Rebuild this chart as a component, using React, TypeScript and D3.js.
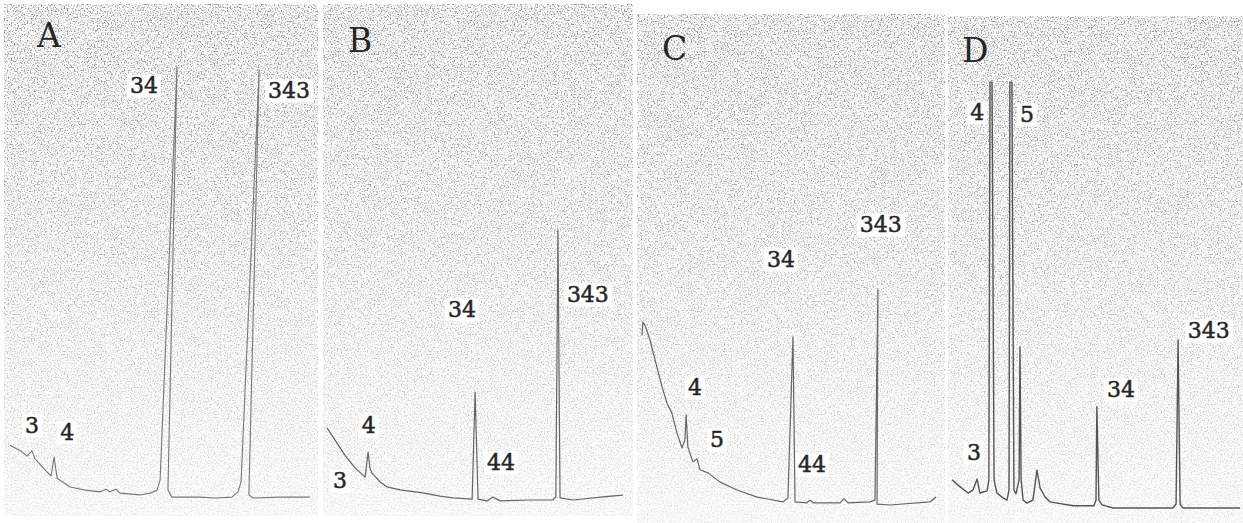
import * as d3 from 'd3';

type Pt = [number, number];
type Label = { text: string; t: number; s: number };

// t = position in the run window (0-100), s = detector response (% of full scale)
const traceA: Pt[] = [
  [0, 12.0], [4.0, 10.5], [5.6, 9.5], [7.3, 10.7], [8.3, 8.9], [11.6, 6.4], [13.6, 5.0],
  [14.6, 9.3], [15.6, 4.5], [19.9, 2.5], [24.8, 1.8], [29.8, 1.4], [31.8, 2.0], [33.1, 1.4],
  [35.1, 2.0], [36.4, 1.1], [43.0, 0.7], [46.4, 1.1], [48.7, 1.8], [49.7, 4.1], [55.3, 98.0],
  [52.3, 1.8], [53.6, 0.2], [62.9, 0.2], [67.9, 0], [73.5, 0.2], [75.5, 1.4], [76.5, 3.6],
  [82.5, 97.3], [79.1, 0.7], [80.5, 0], [89.4, 0.2], [99.3, 0.2],
];
const traceB: Pt[] = [
  [0, 16.4], [2.7, 13.6], [6.0, 10.2], [9.4, 7.3], [12.8, 5.2], [13.8, 10.9], [14.4, 7.3],
  [15.1, 6.1], [17.8, 4.1], [20.1, 3.0], [24.5, 2.3], [32.2, 1.6], [37.9, 0.9], [42.3, 0.5],
  [48.7, 0.2], [49.7, 24.5], [50.7, 0.2], [53.7, -0.2], [55.7, 0.7], [58.1, -0.2], [68.1, 0],
  [75.8, 0], [76.8, 0.7], [77.5, 61.4], [78.2, 0.5], [82.6, 0], [92.6, 0.7], [99.3, 1.1],
];
const traceC: Pt[] = [
  [0, 38.6], [0.3, 41.6], [1.0, 40.9], [2.7, 37.5], [4.4, 33.0], [6.8, 26.8], [8.4, 23.2],
  [10.1, 20.9], [11.8, 16.4], [13.5, 13.0], [14.5, 14.8], [14.9, 20.5], [15.5, 13.2],
  [17.2, 9.8], [18.6, 10.5], [19.6, 8.0], [22.3, 7.3], [26.4, 5.2], [32.1, 3.4], [38.9, 1.8],
  [47.6, 0.7], [49.3, 1.6], [51.0, 38.2], [51.7, 0.7], [55.7, 0.5], [56.8, 1.1], [57.8, 0.5],
  [66.9, 0.5], [68.2, 1.4], [69.6, 0.5], [77.0, 0.7], [78.7, 1.1], [79.7, 48.9], [79.4, 0.2],
  [83.8, 0], [97.3, 0.7], [99.3, 1.8],
];
const traceD: Pt[] = [
  [0, 6.4], [2.1, 5.2], [5.6, 3.4], [7.3, 4.1], [8.7, 6.6], [9.7, 3.4], [12.2, 3.9],
  [12.8, 6.4], [13.2, 96.8], [13.9, 96.8], [14.6, 6.4], [15.6, 3.4], [17.7, 2.3], [19.1, 1.8],
  [19.8, 4.1], [20.1, 96.8], [20.8, 96.8], [21.5, 4.1], [22.2, 3.2], [23.3, 6.4], [23.6, 36.6],
  [24.0, 6.4], [24.7, 1.8], [26.0, 1.1], [28.1, 1.8], [29.5, 8.6], [30.6, 4.5], [32.3, 2.5],
  [34.0, 1.4], [42.0, 0.5], [49.3, 0.5], [50.0, 1.8], [50.3, 23.0], [51.0, 1.8], [52.1, 0.7],
  [55.9, 0], [76.7, 0], [77.8, 0.9], [78.5, 38.2], [79.2, 0.9], [80.2, 0], [89.2, 0], [100, 0],
];

const labelsA: Label[] = [
  { text: '34', t: 39.7, s: 92.0 }, { text: '343', t: 85.4, s: 90.9 },
  { text: '3', t: 5.0, s: 14.8 }, { text: '4', t: 16.6, s: 13.2 },
];
const labelsB: Label[] = [
  { text: '34', t: 40.6, s: 41.6 }, { text: '343', t: 80.5, s: 45.0 },
  { text: '4', t: 11.7, s: 15.2 }, { text: '3', t: 2.0, s: 2.7 }, { text: '44', t: 53.7, s: 6.8 },
];
const labelsC: Label[] = [
  { text: '343', t: 73.6, s: 62.0 }, { text: '34', t: 42.2, s: 54.1 },
  { text: '4', t: 15.5, s: 25.0 }, { text: '5', t: 23.0, s: 13.2 }, { text: '44', t: 52.7, s: 7.5 },
];
const labelsD: Label[] = [
  { text: '4', t: 6.3, s: 88.2 }, { text: '5', t: 23.6, s: 87.7 }, { text: '3', t: 5.2, s: 10.9 },
  { text: '34', t: 53.8, s: 25.2 }, { text: '343', t: 81.9, s: 38.6 },
];

const panelLetters = ['A', 'B', 'C', 'D'];

const panels = [
  { trace: traceA, labels: labelsA, box: [4, 4, 314, 512], xr: [10, 312], base: 498, letter: [37, 47], stroke: '#777', sw: 1.1 },
  { trace: traceB, labels: labelsB, box: [323, 4, 310, 512], xr: [327, 625], base: 500, letter: [348, 52], stroke: '#666', sw: 1.2 },
  { trace: traceC, labels: labelsC, box: [637, 14, 308, 509], xr: [642, 938], base: 505, letter: [662, 60], stroke: '#666', sw: 1.2 },
  { trace: traceD, labels: labelsD, box: [948, 16, 295, 507], xr: [952, 1240], base: 508, letter: [962, 62], stroke: '#555', sw: 1.4 },
];

const FONT = '"DejaVu Serif", "Liberation Serif", serif';
const LABEL_SIZE = 22;

export default function App() {
  return (
    <svg width={1243} height={523} style={{ position: 'absolute', left: 0, top: 0, background: '#fff' }}>
      <defs>
        <filter id="grain" x="0" y="0" width="100%" height="100%">
          <feTurbulence type="fractalNoise" baseFrequency="0.7" numOctaves="1" seed="7" />
          <feColorMatrix type="matrix" values="0 0 0 0 0.25  0 0 0 0 0.25  0 0 0 0 0.25  4.2 0 0 0 -2.05" />
        </filter>
        <linearGradient id="fade" x1="0" y1="0" x2="0" y2="1">
          <stop offset="0" stopColor="#fff" stopOpacity="0.95" />
          <stop offset="0.45" stopColor="#fff" stopOpacity="0.7" />
          <stop offset="1" stopColor="#fff" stopOpacity="0.2" />
        </linearGradient>
        <mask id="fadeMask" maskContentUnits="objectBoundingBox">
          <rect width="1" height="1" fill="url(#fade)" />
        </mask>
      </defs>
      {panels.map((p, i) => {
        const [bx, by, bw, bh] = p.box;
        const x = d3.scaleLinear().domain([0, 100]).range(p.xr);
        const y = d3.scaleLinear().domain([0, 100]).range([p.base, p.base - 440]);
        const line = d3.line<Pt>().x(d => x(d[0])).y(d => y(d[1]));
        return (
          <g key={i}>
            <rect x={bx} y={by} width={bw} height={bh} fill="#fcfcfc" />
            <rect x={bx} y={by} width={bw} height={bh} filter="url(#grain)" mask="url(#fadeMask)" />
            {p.labels.map((l, j) => (
              <rect key={'b' + j} x={x(l.t) - 3} y={y(l.s) - LABEL_SIZE * 0.85}
                width={l.text.length * LABEL_SIZE * 0.64 + 6} height={LABEL_SIZE * 1.05} fill="#fff" />
            ))}
            <path d={line(p.trace) ?? ''} fill="none" stroke={p.stroke} strokeWidth={p.sw} strokeLinejoin="round" />
            {p.labels.map((l, j) => (
              <text key={'t' + j} x={x(l.t)} y={y(l.s)} fontFamily={FONT} fontSize={LABEL_SIZE}
                fill="#262626" stroke="#262626" strokeWidth={0.5}>{l.text}</text>
            ))}
            <text x={p.letter[0]} y={p.letter[1]} fontFamily={FONT} fontSize={33} fill="#262626">{panelLetters[i]}</text>
          </g>
        );
      })}
    </svg>
  );
}
